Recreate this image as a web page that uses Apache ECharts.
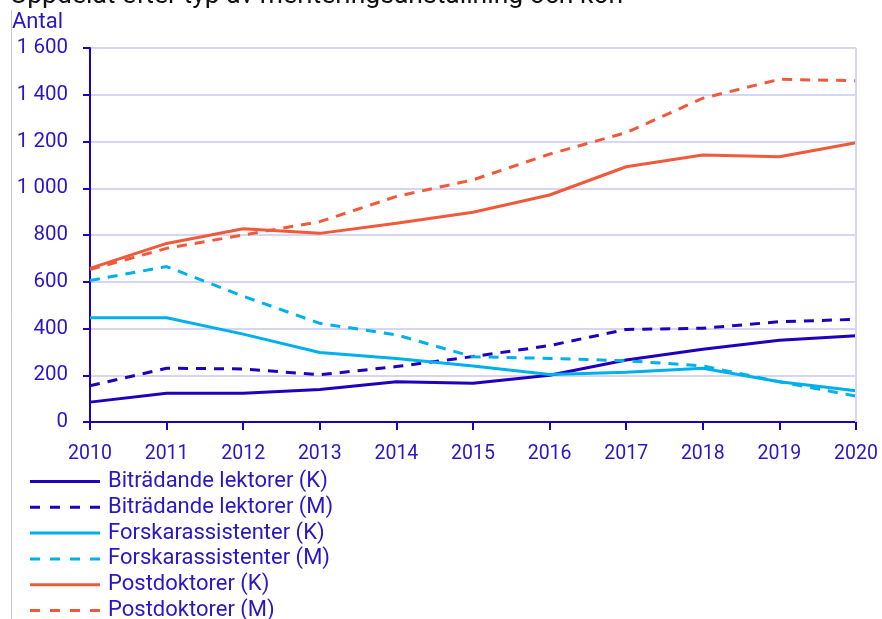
<!DOCTYPE html>
<html>
<head>
<meta charset="utf-8">
<script src="https://cdn.jsdelivr.net/npm/echarts@6/dist/echarts.min.js"></script>
<style>
  html, body { margin: 0; padding: 0; background: #fff; }
  #chart { width: 882px; height: 619px; }
</style>
</head>
<body>
<div id="chart"></div>
<script>
// Meriteringsanställningar per år, uppdelat på kön (K/M)
const years = ['2010', '2011', '2012', '2013', '2014', '2015', '2016', '2017', '2018', '2019', '2020'];

const bitradandeK = [85, 123, 123, 139, 172, 166, 200, 265, 311, 350, 369];
const bitradandeM = [155, 230, 227, 202, 237, 280, 327, 396, 401, 429, 439];
const forskassK = [446, 446, 376, 297, 272, 240, 203, 213, 230, 172, 134];
const forskassM = [605, 665, 538, 422, 373, 279, 272, 262, 240, 172, 111];
const postdokK = [657, 764, 827, 807, 850, 897, 971, 1092, 1142, 1135, 1195];
const postdokM = [652, 743, 800, 857, 965, 1036, 1146, 1238, 1385, 1466, 1460];

const yTicks = { min: 0, max: 1600, interval: 200 };

const seriesNames = [
  'Biträdande lektorer (K)', 'Biträdande lektorer (M)',
  'Forskarassistenter (K)', 'Forskarassistenter (M)',
  'Postdoktorer (K)', 'Postdoktorer (M)'
];

const BLUE = '#1e00be';
const CYAN = '#00b0ec';
const ORANGE = '#f0593a';
const TEXT = '#2a16c6';
const GRID = '#d6d6f2';
const FONT = 'Roboto, "Noto Sans", sans-serif';

// legend keys: a solid bar and a row of four dashes
const ICON_SOLID = 'path://M0,0H70V3H0Z';
const ICON_DASHED = 'path://M0,0H10V3H0Z M20,0H30V3H20Z M40,0H50V3H40Z M60,0H70V3H60Z';

function line(name, data, color, dashed) {
  return {
    name: name,
    type: 'line',
    data: data,
    symbol: 'none',
    smooth: false,
    lineStyle: {
      color: color,
      width: 3,
      type: dashed ? [10, 8] : 'solid'
    },
    itemStyle: { color: color },
    emphasis: { disabled: true }
  };
}

const chart = echarts.init(document.getElementById('chart'), null, { renderer: 'canvas' });

chart.setOption({
  animation: false,
  backgroundColor: '#ffffff',
  textStyle: { fontFamily: FONT },
  graphic: [
    {
      type: 'text',
      left: 10,
      top: -17,
      style: {
        text: 'Uppdelat efter typ av meriteringsanställning och kön',
        fill: '#111111',
        font: '26.5px ' + FONT
      }
    },
    {
      type: 'text',
      left: 12,
      top: 11,
      style: { text: 'Antal', fill: TEXT, font: '22px ' + FONT }
    },
    {
      type: 'line',
      shape: { x1: 11.5, y1: 10, x2: 11.5, y2: 619 },
      style: { stroke: '#c8c8c8', lineWidth: 1 }
    }
  ],
  grid: { left: 90, right: 26, top: 48, bottom: 197, containLabel: false },
  legend: {
    orient: 'vertical',
    left: 30,
    top: 470,
    height: 170,
    padding: 0,
    itemWidth: 70,
    itemHeight: 3,
    itemGap: 2.8,
    textStyle: { color: TEXT, fontSize: 22, fontFamily: FONT, padding: [0, 0, 0, 3], lineHeight: 23 },
    data: seriesNames.map(function (n, i) {
      return { name: n, icon: i % 2 ? ICON_DASHED : ICON_SOLID };
    })
  },
  xAxis: {
    type: 'category',
    data: years,
    boundaryGap: false,
    axisLine: { lineStyle: { color: BLUE, width: 2 } },
    axisTick: { show: true, length: 8, lineStyle: { color: BLUE, width: 2 }, alignWithLabel: true },
    axisLabel: { color: TEXT, fontSize: 19.5, margin: 22, fontFamily: FONT },
    splitLine: { show: false }
  },
  yAxis: {
    type: 'value',
    min: yTicks.min,
    max: yTicks.max,
    interval: yTicks.interval,
    axisLine: { show: true, lineStyle: { color: BLUE, width: 2 } },
    axisTick: { show: true, length: 7, lineStyle: { color: BLUE, width: 2 } },
    axisLabel: {
      color: TEXT,
      fontSize: 20.5,
      margin: 22,
      fontFamily: FONT,
      formatter: function (v) {
        return String(v).replace(/\B(?=(\d{3})+(?!\d))/g, ' ');
      }
    },
    splitLine: { show: true, lineStyle: { color: GRID, width: 2 } }
  },
  series: [
    line(seriesNames[0], bitradandeK, BLUE, false),
    line(seriesNames[1], bitradandeM, BLUE, true),
    line(seriesNames[2], forskassK, CYAN, false),
    line(seriesNames[3], forskassM, CYAN, true),
    line(seriesNames[4], postdokK, ORANGE, false),
    line(seriesNames[5], postdokM, ORANGE, true),
    {
      // right-hand frame line of the plot area
      type: 'line',
      data: [],
      markLine: {
        silent: true,
        symbol: 'none',
        label: { show: false },
        lineStyle: { color: GRID, width: 2, type: 'solid' },
        data: [{ xAxis: '2020' }]
      }
    }
  ]
});
</script>
</body>
</html>
